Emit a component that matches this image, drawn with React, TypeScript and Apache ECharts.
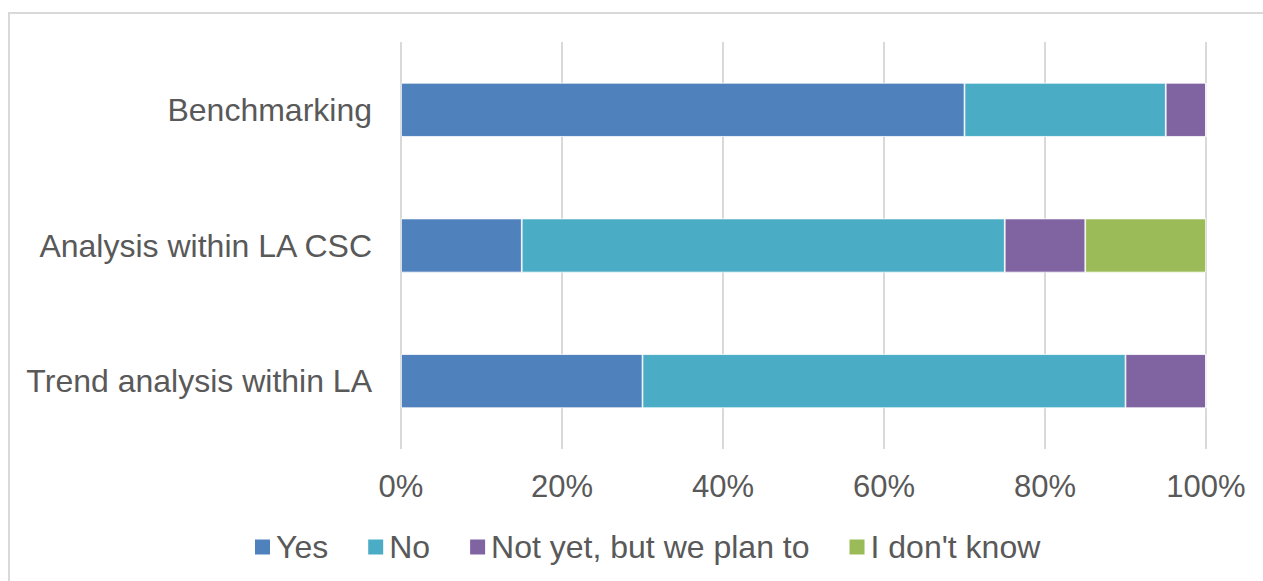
import React, { useEffect, useRef } from "react";
import * as echarts from "echarts";

const categories = ["Trend analysis within LA", "Analysis within LA CSC", "Benchmarking"];
const seriesNames = ["Yes", "No", "Not yet, but we plan to", "I don't know"];
const yesValues = [30, 15, 70];
const noValues = [60, 60, 25];
const notYetValues = [10, 10, 5];
const dontKnowValues = [0, 15, 0];
const colors = ["#4F81BD", "#4BACC6", "#8064A2", "#9BBB59"];
const tickValues = [0, 20, 40, 60, 80, 100];

const FONT = "'Liberation Sans', Arial, sans-serif";
const TEXT = "#595959";

export default function App() {
  const ref = useRef<HTMLDivElement>(null);
  useEffect(() => {
    if (!ref.current) return;
    const chart = echarts.init(ref.current, null, { renderer: "svg" });
    const data = [yesValues, noValues, notYetValues, dontKnowValues];
    chart.setOption({
      animation: false,
      backgroundColor: "#ffffff",
      textStyle: { fontFamily: FONT },
      graphic: [
        {
          type: "rect",
          shape: { x: 9, y: 13, width: 1400, height: 700 },
          style: { fill: "none", stroke: "#d9d9d9", lineWidth: 2 },
          silent: true,
        },
      ],
      grid: { left: 401, right: 57, top: 42, bottom: 132, containLabel: false },
      legend: {
        left: 248,
        top: 526,
        itemWidth: 17,
        itemHeight: 17,
        itemGap: 38,
        icon: "rect",
        data: seriesNames,
        textStyle: { fontSize: 32, color: TEXT, fontFamily: FONT },
      },
      xAxis: {
        type: "value",
        min: tickValues[0],
        max: tickValues[tickValues.length - 1],
        interval: 20,
        axisLine: { show: false },
        axisTick: { show: false },
        splitLine: { show: true, lineStyle: { color: "#d9d9d9", width: 2 } },
        axisLabel: {
          formatter: "{value}%",
          fontSize: 31,
          color: TEXT,
          fontFamily: FONT,
          margin: 22,
        },
      },
      yAxis: {
        type: "category",
        data: categories,
        axisLine: { show: false },
        axisTick: { show: false },
        axisLabel: { fontSize: 32, color: TEXT, fontFamily: FONT, margin: 29 },
      },
      series: seriesNames.map((name, i) => ({
        name,
        type: "bar",
        stack: "total",
        barWidth: 54,
        data: data[i],
        itemStyle: { color: colors[i], borderColor: "#ffffff", borderWidth: 0.75 },
      })),
    });
    return () => chart.dispose();
  }, []);
  return (
    <div
      ref={ref}
      style={{ position: "absolute", left: 0, top: 0, width: 1263, height: 581 }}
    />
  );
}
